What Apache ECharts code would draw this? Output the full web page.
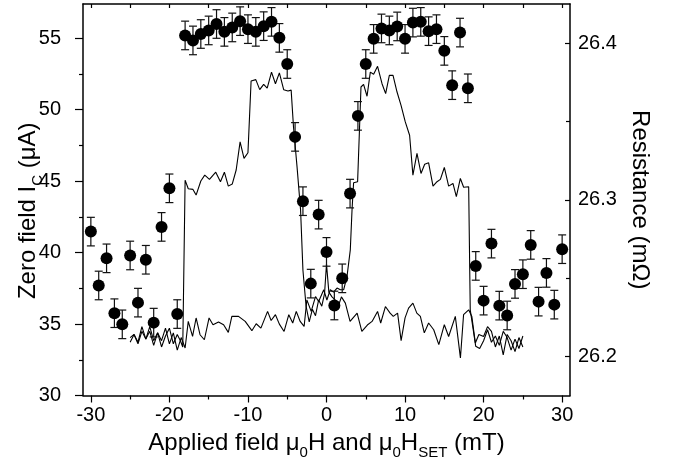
<!DOCTYPE html>
<html>
<head>
<meta charset="utf-8">
<script src="https://cdn.jsdelivr.net/npm/echarts@6/dist/echarts.min.js"></script>
<style>
  html, body { margin: 0; padding: 0; background: #fff; }
  #chart { width: 683px; height: 470px; }
</style>
</head>
<body>
<div id="chart"></div>
<script>
// critical current points (left axis), field in mT
var fieldH = [-30, -29, -28, -27, -26, -25, -24, -23, -22, -21, -20, -19, -18, -17, -16, -15, -14, -13, -12, -11,
  -10, -9, -8, -7, -6, -5, -4, -3, -2, -1, 0, 1, 2, 3, 4, 5, 6, 7, 8, 9,
  10, 11, 12, 13, 14, 15, 16, 17, 18, 19, 20, 21, 22, 23, 24, 25, 26, 27, 28, 29, 30];
var icValues = [41.47, 37.7, 39.6, 35.76, 34.98, 39.8, 36.5, 39.5, 35.1, 41.8, 44.5, 35.7, 55.2, 54.85, 55.3, 55.55, 56.0, 55.45, 55.76, 56.2,
  55.64, 55.45, 55.85, 56.15, 55.03, 53.2, 48.1, 43.6, 37.83, 42.66, 40.05, 36.3, 38.2, 44.13, 49.57, 53.2, 54.96, 55.69, 55.55, 55.83,
  54.96, 56.1, 56.15, 55.5, 55.64, 54.12, 51.72, 55.4, 51.5, 39.07, 36.64, 40.63, 36.29, 35.6, 37.81, 38.49, 40.54, 36.57, 38.58, 36.36, 40.24];
var icErr = 1.0;

// resistance sweeps (right axis), [field mT, resistance mOhm]
var sweepUp = [
  [-25, 26.209], [-24.5, 26.214], [-24, 26.208], [-23.5, 26.216], [-23, 26.211], [-22.5, 26.219], [-22, 26.210], [-21.5, 26.215], [-21, 26.206], [-20.5, 26.213],
  [-20, 26.218], [-19.5, 26.208], [-19, 26.214], [-18.6, 26.210], [-18.3, 26.206], [-18.0, 26.3125], [-17.6, 26.307], [-17.0, 26.3066], [-16.6, 26.303], [-16.0, 26.312],
  [-15.5, 26.3157], [-14.9, 26.313], [-14.1, 26.3176], [-13.5, 26.3115], [-13.0, 26.3176], [-12.5, 26.3087], [-12.0, 26.310], [-11.5, 26.319], [-11.0, 26.337], [-10.5, 26.3264],
  [-10.0, 26.330], [-9.6, 26.3758], [-9.0, 26.3767], [-8.5, 26.3703], [-8.0, 26.3737], [-7.55, 26.3713], [-7.0, 26.3815], [-6.5, 26.3741], [-6.0, 26.381], [-5.45, 26.3703],
  [-4.9, 26.3694], [-4.5, 26.370], [-4.2, 26.3465], [-3.75, 26.321], [-3.3, 26.2934], [-3.0, 26.255], [-2.6, 26.232], [-2.2, 26.222], [-1.8, 26.230], [-1.4, 26.226],
  [-1.0, 26.236], [-0.6, 26.232], [-0.25, 26.240], [0.0, 26.259], [0.3, 26.241], [0.7, 26.238], [1.1, 26.236], [1.5, 26.232], [1.9, 26.238], [2.4, 26.234],
  [3.0, 26.2223], [3.9, 26.2276], [4.5, 26.216], [5.2, 26.220], [5.8, 26.2223], [6.5, 26.2287], [6.9, 26.2213], [7.5, 26.2318], [8.1, 26.2276], [8.5, 26.2255],
  [9.05, 26.2276], [9.5, 26.210], [10.0, 26.2246], [10.45, 26.2308], [11.0, 26.234], [11.5, 26.2276], [11.95, 26.2255], [12.45, 26.215], [13.0, 26.2213], [13.65, 26.217],
  [14.3, 26.2075], [15.0, 26.2202], [15.55, 26.2127], [16.4, 26.2255], [17.05, 26.199], [17.45, 26.2266], [18.1, 26.2297], [18.5, 26.2255], [18.95, 26.2085], [19.4, 26.214],
  [20.0, 26.2127], [20.5, 26.219], [21.0, 26.216], [21.5, 26.206], [22.0, 26.213], [22.5, 26.201], [23.0, 26.214], [23.5, 26.210], [24.0, 26.203], [24.5, 26.212], [25.0, 26.206]
];
var sweepDown = [
  [25.0, 26.213], [24.5, 26.205], [24.0, 26.211], [23.5, 26.204], [23.0, 26.212], [22.5, 26.216], [22.0, 26.207], [21.5, 26.213], [21.0, 26.209], [20.5, 26.217],
  [20.0, 26.210], [19.5, 26.205], [19.0, 26.2064], [18.3, 26.2297], [18.1, 26.3083], [17.9, 26.3087], [17.46, 26.308], [17.04, 26.3136], [16.53, 26.302], [16.1, 26.3104],
  [15.55, 26.3087], [15.0, 26.3206], [14.5, 26.313], [14.07, 26.3115], [13.56, 26.3087], [13.0, 26.3236], [12.5, 26.3227], [12.03, 26.3168], [11.52, 26.3296], [11.0, 26.3157],
  [10.58, 26.3412], [10.03, 26.3497], [9.49, 26.3603], [8.98, 26.3688], [8.47, 26.3794], [8.0, 26.3794], [7.53, 26.3678], [7.07, 26.3741], [6.5, 26.3852], [6.0, 26.3801],
  [5.58, 26.3815], [5.16, 26.3661], [4.72, 26.3737], [4.39, 26.372], [4.21, 26.3465], [3.96, 26.3115], [3.45, 26.3108], [3.25, 26.2934], [3.03, 26.268], [2.61, 26.251],
  [2.18, 26.2425], [1.76, 26.2425], [1.34, 26.2436], [0.9, 26.241], [0.48, 26.2425], [0.05, 26.236], [-0.35, 26.2425], [-1.0, 26.235], [-1.4, 26.2382], [-1.95, 26.2287],
  [-2.5, 26.2361], [-2.85, 26.2191], [-3.35, 26.2223], [-3.85, 26.2287], [-4.3, 26.2213], [-4.8, 26.2266], [-5.4, 26.2159], [-6.0, 26.2206], [-6.5, 26.2266], [-7.05, 26.2229],
  [-7.5, 26.2287], [-8.35, 26.218], [-8.95, 26.2208], [-9.5, 26.2164], [-10.35, 26.2223], [-11.2, 26.2255], [-12.05, 26.2255], [-12.5, 26.2153], [-13.1, 26.2202], [-13.75, 26.2219],
  [-14.45, 26.2202], [-14.95, 26.2245], [-15.55, 26.2106], [-16.1, 26.2138], [-16.6, 26.2245], [-17.05, 26.2127], [-17.6, 26.2223], [-18.0, 26.2053], [-18.5, 26.212], [-19.0, 26.204],
  [-19.5, 26.215], [-20.0, 26.208], [-20.5, 26.218], [-21.0, 26.21], [-21.5, 26.215], [-22.0, 26.207], [-22.5, 26.216], [-23.0, 26.211], [-23.5, 26.219], [-24.0, 26.209],
  [-24.5, 26.214], [-25.0, 26.212]
];

// tick positions
var xMajorTicks = [-30, -20, -10, 0, 10, 20, 30];
var xMinorTicks = [-25, -15, -5, 5, 15, 25];
var xTopTicks = [-30, -25, -20, -15, -10, -5, 0, 5, 10, 15, 20, 25, 30];
var icTicks = [30, 35, 40, 45, 50, 55];
var icMinorTicks = [32.5, 37.5, 42.5, 47.5, 52.5];
var resTicks = [26.2, 26.3, 26.4];
var resMinorTicks = [26.25, 26.35];

var font = "'Liberation Sans', Arial, sans-serif";
var chart = echarts.init(document.getElementById('chart'));

function axisBase(extra) {
    var base = {
        type: 'value',
        nameMoveOverlap: false,
        splitLine: { show: false },
        axisLine: { show: true, onZero: false, lineStyle: { color: '#000', width: 1.5 } },
        axisTick: { show: true, lineStyle: { color: '#000', width: 1.2 } },
        axisLabel: { show: false, color: '#000', fontSize: 20, fontFamily: font },
        nameTextStyle: { color: '#000', fontSize: 24, fontFamily: font }
    };
    return echarts.util.merge(base, extra, true);
}

// rich styles: main text at the top of the line box, subscripts pushed down with top padding
var titleRich = {
    m: { fontSize: 24, fontFamily: font, color: '#000', verticalAlign: 'top' },
    s: { fontSize: 15, fontFamily: font, color: '#000', padding: [14, 0, 0, 0], verticalAlign: 'bottom' }
};

var errData = fieldH.map(function (h, i) { return [h, icValues[i], icErr]; });
var ptData = fieldH.map(function (h, i) { return [h, icValues[i]]; });

var option = {
    animation: false,
    backgroundColor: '#fff',
    grid: { left: 83, right: 113, top: 4, bottom: 74.5 },
    xAxis: [
        axisBase({
            position: 'bottom', min: -31, max: 31,
            axisTick: { customValues: xMajorTicks, length: 7 },
            axisLabel: { show: true, customValues: xMajorTicks, margin: 10 },
            name: '{m|Applied field μ}{s|0}{m|H and μ}{s|0}{m|H}{s|SET}{m| (mT)}',
            nameLocation: 'middle', nameGap: 36,
            nameTextStyle: { rich: titleRich }
        }),
        axisBase({
            position: 'bottom', min: -31, max: 31,
            axisLine: { show: false },
            axisTick: { customValues: xMinorTicks, length: 4 }
        }),
        axisBase({
            position: 'top', min: -31, max: 31,
            axisTick: { customValues: xTopTicks, inside: true, length: 4 }
        })
    ],
    yAxis: [
        axisBase({
            position: 'left', min: 30, max: 57.4,
            axisTick: { customValues: icTicks, length: 8 },
            axisLabel: { show: true, customValues: icTicks, margin: 22 },
            name: '{m|Zero field I}{s|C}{m| (μA)}',
            nameLocation: 'middle', nameGap: 38,
            nameTextStyle: { rich: titleRich, padding: [0, 22, 0, 0] }
        }),
        axisBase({
            position: 'right', min: 26.175, max: 26.425,
            axisTick: { customValues: resTicks, inside: true, length: 5 },
            axisLabel: { show: true, customValues: resTicks, margin: 8, formatter: function (v) { return v.toFixed(1); } },
            name: 'Resistance (mΩ)',
            nameLocation: 'middle', nameGap: 58, nameRotate: -90
        }),
        axisBase({
            position: 'left', min: 30, max: 57.4,
            axisLine: { show: false },
            axisTick: { customValues: icMinorTicks, length: 4 }
        }),
        axisBase({
            position: 'right', min: 26.175, max: 26.425,
            axisLine: { show: false },
            axisTick: { customValues: resMinorTicks, inside: true, length: 4 }
        })
    ],
    series: [
        {
            name: 'R up', type: 'line', xAxisIndex: 0, yAxisIndex: 1,
            data: sweepUp, showSymbol: false, symbol: 'none', z: 2,
            lineStyle: { color: '#000', width: 1.1 }
        },
        {
            name: 'R down', type: 'line', xAxisIndex: 0, yAxisIndex: 1,
            data: sweepDown, showSymbol: false, symbol: 'none', z: 2,
            lineStyle: { color: '#000', width: 1.1 }
        },
        {
            name: 'Ic error', type: 'custom', xAxisIndex: 0, yAxisIndex: 0, z: 3,
            data: errData,
            renderItem: function (params, api) {
                var x = api.value(0), y = api.value(1), e = api.value(2);
                var top = api.coord([x, y + e]);
                var bot = api.coord([x, y - e]);
                var hw = 4;
                var st = { stroke: '#111', lineWidth: 1.2 };
                return {
                    type: 'group',
                    children: [
                        { type: 'line', shape: { x1: top[0], y1: top[1], x2: bot[0], y2: bot[1] }, style: st },
                        { type: 'line', shape: { x1: top[0] - hw, y1: top[1], x2: top[0] + hw, y2: top[1] }, style: st },
                        { type: 'line', shape: { x1: bot[0] - hw, y1: bot[1], x2: bot[0] + hw, y2: bot[1] }, style: st }
                    ]
                };
            }
        },
        {
            name: 'Ic', type: 'scatter', xAxisIndex: 0, yAxisIndex: 0, z: 4,
            data: ptData, symbol: 'circle', symbolSize: 12,
            itemStyle: { color: '#000', opacity: 1 }
        }
    ]
};

chart.setOption(option);
</script>
</body>
</html>
